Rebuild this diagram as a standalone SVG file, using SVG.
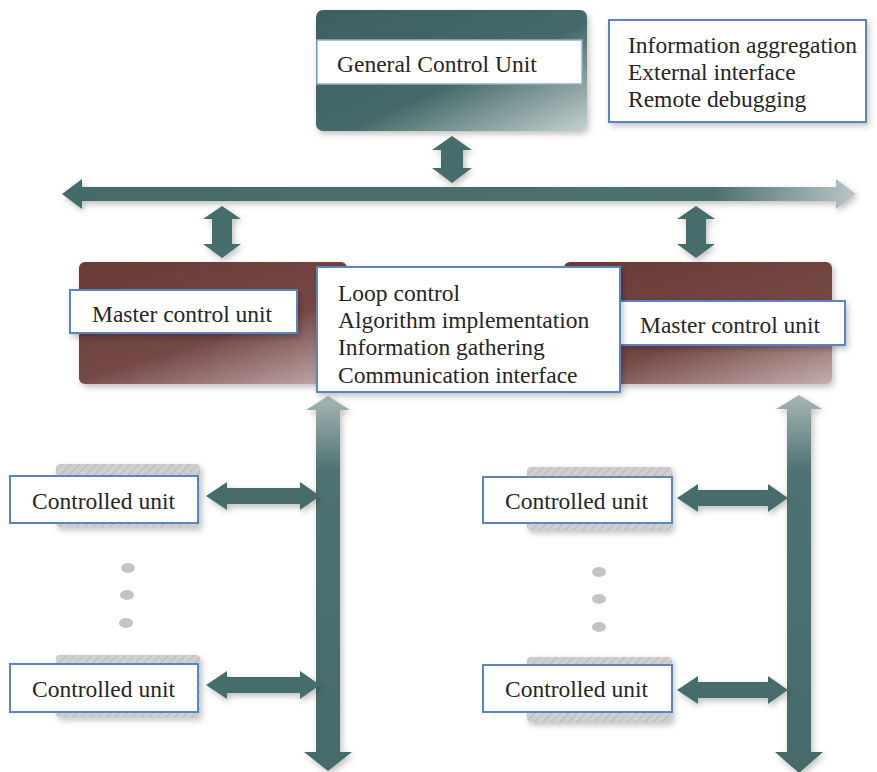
<svg xmlns="http://www.w3.org/2000/svg" width="877" height="772" viewBox="0 0 877 772">
<defs>
<style>
.lbl{fill:#ffffff;stroke:#5a85c0;stroke-width:2}
.info{fill:#ffffff;stroke:#5a85c0;stroke-width:2}
.t{font-family:'Liberation Serif','Times New Roman',serif;font-size:23.5px;fill:#262626}
.arr{fill:#476c6c}
.dot{fill:#c4c4c4}
</style>
<filter id="sh" x="-10%" y="-10%" width="130%" height="140%">
<feDropShadow dx="2" dy="3" stdDeviation="3" flood-color="#000" flood-opacity="0.25"/>
</filter>
<linearGradient id="gTeal" x1="0" y1="0" x2="1" y2="1">
<stop offset="0" stop-color="#3d6060"/>
<stop offset="0.55" stop-color="#456868"/>
<stop offset="1" stop-color="#c4d0d0"/>
</linearGradient>
<linearGradient id="gBrown" x1="0" y1="0" x2="0.8" y2="1.2">
<stop offset="0" stop-color="#6a3a37"/>
<stop offset="0.55" stop-color="#744745"/>
<stop offset="1" stop-color="#cbb8b8"/>
</linearGradient>
<linearGradient id="gBusH" x1="0" y1="0" x2="1" y2="0">
<stop offset="0" stop-color="#456a6a"/>
<stop offset="0.82" stop-color="#4d7070"/>
<stop offset="1" stop-color="#b8c6c6"/>
</linearGradient>
<linearGradient id="gBusV" x1="0" y1="0" x2="0" y2="1">
<stop offset="0" stop-color="#a7b6b6"/>
<stop offset="0.2" stop-color="#4f7272"/>
<stop offset="1" stop-color="#456a6a"/>
</linearGradient>
<pattern id="hatch" width="6" height="6" patternUnits="userSpaceOnUse" patternTransform="rotate(45)">
<rect width="6" height="6" fill="#cfcfcf"/>
<line x1="0" y1="0" x2="0" y2="6" stroke="#b9b9b9" stroke-width="2"/>
</pattern>
</defs>
<rect width="877" height="772" fill="#ffffff"/>

<g id="connectors">
<path class="arr" filter="url(#sh)" d="M452,136 L472,150 L463,150 L463,168 L472,168 L452,183 L432,168 L441,168 L441,150 L432,150 Z"/>
<path fill="url(#gBusH)" filter="url(#sh)" d="M62,194 L82,179 L82,187 L836,187 L836,179 L856,194 L836,209 L836,201 L82,201 L82,209 Z"/>
<path class="arr" filter="url(#sh)" d="M222,206 L241,219 L232,219 L232,244 L241,244 L222,258 L203,244 L212,244 L212,219 L203,219 Z"/>
<path class="arr" filter="url(#sh)" d="M696,206 L715,219 L706,219 L706,244 L715,244 L696,258 L677,244 L686,244 L686,219 L677,219 Z"/>
<path fill="url(#gBusV)" filter="url(#sh)" d="M328,396 L350,410 L340,410 L340,752 L352,752 L328,771 L304,752 L316,752 L316,410 L306,410 Z"/>
<path fill="url(#gBusV)" filter="url(#sh)" d="M799,395 L822,409 L811,409 L811,752 L823,752 L799,773 L775,752 L787,752 L787,409 L776,409 Z"/>
<path class="arr" filter="url(#sh)" d="M206,496 L227,482 L227,488 L300,488 L300,482 L320,496 L300,510 L300,504 L227,504 L227,510 Z"/>
<path class="arr" filter="url(#sh)" d="M206,685 L227,671 L227,677 L300,677 L300,671 L320,685 L300,699 L300,693 L227,693 L227,699 Z"/>
<path class="arr" filter="url(#sh)" d="M677,498 L698,484 L698,490 L768,490 L768,484 L788,498 L768,512 L768,506 L698,506 L698,512 Z"/>
<path class="arr" filter="url(#sh)" d="M677,690 L698,676 L698,682 L768,682 L768,676 L788,690 L768,704 L768,698 L698,698 L698,704 Z"/>
</g>

<g id="general-control-unit">
<rect x="316" y="10" width="271" height="121" rx="7" fill="url(#gTeal)" filter="url(#sh)"/>
<rect x="317" y="40" width="265" height="44" fill="#ffffff" stroke="#8fb0d0" stroke-width="1.5"/>
<text class="t" x="337" y="72">General Control Unit</text>
</g>

<g id="gcu-info">
<rect class="info" x="609" y="20" width="257" height="102" filter="url(#sh)"/>
<text class="t" x="628" y="53">Information aggregation</text>
<text class="t" x="628" y="80">External interface</text>
<text class="t" x="628" y="107">Remote debugging</text>
</g>

<g id="master-left">
<rect x="79" y="262" width="268" height="122" rx="6" fill="url(#gBrown)" filter="url(#sh)"/>
<rect class="lbl" x="70" y="290" width="227" height="43" filter="url(#sh)"/>
<text class="t" x="92" y="322">Master control unit</text>
</g>

<g id="master-right">
<rect x="564" y="262" width="268" height="122" rx="6" fill="url(#gBrown)" filter="url(#sh)"/>
<rect class="lbl" x="620" y="301" width="225" height="44" filter="url(#sh)"/>
<text class="t" x="640" y="333">Master control unit</text>
</g>

<g id="master-info">
<rect class="info" x="317" y="267" width="303" height="125" filter="url(#sh)"/>
<text class="t" x="338" y="301">Loop control</text>
<text class="t" x="338" y="328">Algorithm implementation</text>
<text class="t" x="338" y="355">Information gathering</text>
<text class="t" x="338" y="383">Communication interface</text>
</g>

<g id="controlled-left-1">
<rect x="56" y="464" width="144" height="63" rx="4" fill="url(#hatch)" filter="url(#sh)"/>
<rect class="lbl" x="10" y="476" width="188" height="47"/>
<text class="t" x="32" y="509">Controlled unit</text>
</g>

<g id="controlled-left-2">
<rect x="56" y="655" width="144" height="62" rx="4" fill="url(#hatch)" filter="url(#sh)"/>
<rect class="lbl" x="10" y="664" width="188" height="48"/>
<text class="t" x="32" y="697">Controlled unit</text>
</g>

<g id="controlled-right-1">
<rect x="527" y="467" width="145" height="63" rx="4" fill="url(#hatch)" filter="url(#sh)"/>
<rect class="lbl" x="483" y="477" width="189" height="46"/>
<text class="t" x="505" y="509">Controlled unit</text>
</g>

<g id="controlled-right-2">
<rect x="527" y="657" width="145" height="65" rx="4" fill="url(#hatch)" filter="url(#sh)"/>
<rect class="lbl" x="483" y="665" width="189" height="47"/>
<text class="t" x="505" y="697">Controlled unit</text>
</g>

<g id="dots-left">
<ellipse class="dot" cx="128" cy="568" rx="7" ry="5"/>
<ellipse class="dot" cx="127" cy="595" rx="7" ry="5"/>
<ellipse class="dot" cx="126" cy="623" rx="7" ry="5"/>
</g>
<g id="dots-right">
<ellipse class="dot" cx="599" cy="572" rx="7" ry="5"/>
<ellipse class="dot" cx="599" cy="599" rx="7" ry="5"/>
<ellipse class="dot" cx="599" cy="627" rx="7" ry="5"/>
</g>
</svg>
